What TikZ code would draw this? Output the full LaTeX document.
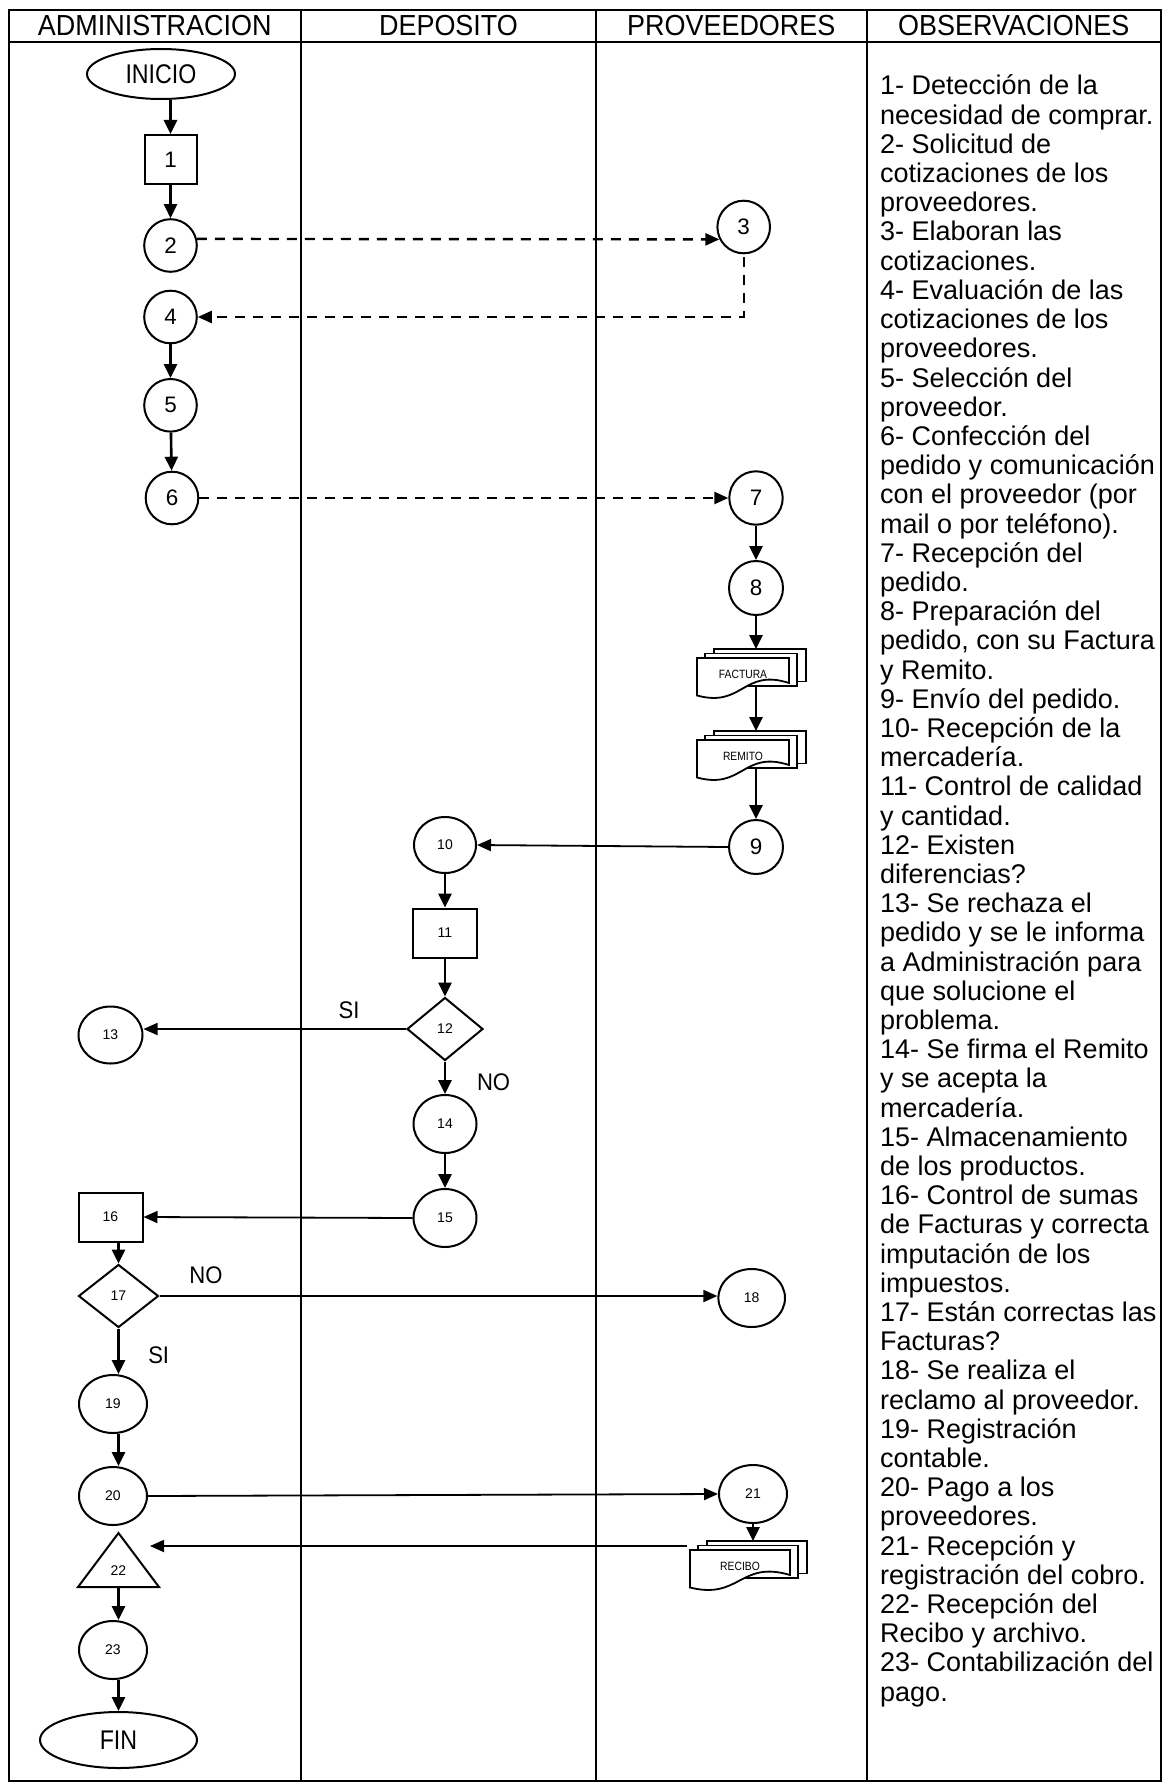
\documentclass[tikz,border=0pt]{standalone}
\usepackage{fontspec}
\setmainfont{Liberation Sans}
\newfontfamily\condfont{Liberation Sans}[FakeStretch=0.86]
\newfontfamily\labfont{Liberation Sans}[FakeStretch=0.92]
\newfontfamily\headfont{Liberation Sans}[FakeStretch=0.93]
\usetikzlibrary{shapes.geometric,arrows.meta,backgrounds}

% stack of three documents: #1 name, #2 left x, #3 top y of the front sheet, #4 width, #5 label
\newcommand\docstack[5]{%
  \foreach \k in {2,1}{%
    \path[docline] ({#2+8.3*\k},{#3-4.5*\k}) rectangle ++(#4,32.5);
  }%
  \path[docline] (#2,#3) -- ++(#4,0) -- ++(0,25)
     .. controls ({#2+0.5*#4},{#3+10}) and ({#2+0.5*#4},{#3+50}) .. (#2,{#3+37.5}) -- cycle;
  \node[doctext] (#1) at ({#2+0.5*#4},{#3+16}) {#5};
  \coordinate (#1-top) at ({#2+16.6+0.5*#4},{#3-9});
}

\begin{document}
\begin{tikzpicture}[x=1pt,y=-1pt,
  lane/.style={line width=2pt},
  shp/.style={draw,line width=2pt,fill=white,inner sep=0pt},
  ell/.style n args={2}{shp,ellipse,minimum width=#1,minimum height=#2},
  box/.style n args={2}{shp,rectangle,minimum width=#1,minimum height=#2},
  dmd/.style n args={2}{shp,diamond,minimum width=#1,minimum height=#2},
  bignum/.style={font=\fontsize{22.4pt}{24pt}\selectfont},
  smallnum/.style={font=\fontsize{14pt}{16pt}\selectfont},
  term/.style={font=\condfont\fontsize{27pt}{29pt}\selectfont},
  head/.style={font=\headfont\fontsize{29pt}{31pt}\selectfont,inner sep=0pt},
  lab/.style={font=\labfont\fontsize{24pt}{26pt}\selectfont,inner sep=0pt},
  doctext/.style={font=\condfont\fontsize{12pt}{14pt}\selectfont,inner sep=0pt},
  docline/.style={draw,line width=1.8pt,fill=white,line join=miter},
  obs/.style={font=\fontsize{27pt}{29.2pt}\selectfont,anchor=base west,inner sep=0pt},
  arr/.style={line width=2.6pt,-{Triangle[length=14pt,width=13pt]}},
  harr/.style={line width=1.8pt,-{Triangle[length=14pt,width=12pt]}},
  dline/.style={line width=2.4pt,dash pattern=on 10pt off 8pt,-{Triangle[length=14pt,width=12pt]}},
]
\useasboundingbox (0,0) rectangle (1168,1787);

% swimlane table
\draw[lane] (8.5,10) rectangle (1161,1781);
\draw[lane] (8.5,42) -- (1161,42);
\foreach \xx in {301,596,866.5} \draw[lane] (\xx,10) -- (\xx,1781);

\node[head] (h1) at (154.75,26) {ADMINISTRACION};
\node[head] (h2) at (448.5,26) {DEPOSITO};
\node[head] (h3) at (731.25,26) {PROVEEDORES};
\node[head] (h4) at (1013.75,26) {OBSERVACIONES};

% administracion / proveedores, upper part
\node[ell={148pt}{50pt},term] (ini) at (161,74) {INICIO};
\node[box={52pt}{49pt},bignum] (b1) at (170.5,159.5) {1};
\node[ell={52.6pt}{52.6pt},bignum] (c2) at (170.5,245.5) {2};
\node[ell={52.6pt}{52.6pt},bignum] (c3) at (743.7,227) {3};
\node[ell={52.6pt}{52.6pt},bignum] (c4) at (170.5,317) {4};
\node[ell={52.6pt}{52.6pt},bignum] (c5) at (170.5,405.3) {5};
\node[ell={52.6pt}{52.6pt},bignum] (c6) at (172,498) {6};
\node[ell={53.4pt}{53.4pt},bignum] (c7) at (756,498) {7};
\node[ell={54pt}{54pt},bignum] (c8) at (756,588) {8};
\docstack{fac}{697}{658}{92}{FACTURA}
\docstack{rem}{697}{740}{92}{REMITO}
\node[ell={54pt}{54pt},bignum] (c9) at (756,847) {9};

% deposito
\node[ell={62pt}{56pt},smallnum] (c10) at (445,845) {10};
\node[box={63.5pt}{49pt},smallnum] (b11) at (445,933) {11};
\node[dmd={76pt}{63pt},smallnum] (d12) at (445,1029) {12};
\node[ell={64pt}{57pt},smallnum] (c13) at (110.5,1035) {13};
\node[ell={63pt}{58pt},smallnum] (c14) at (445,1124) {14};
\node[ell={63pt}{58pt},smallnum] (c15) at (445,1218) {15};
\node[lab] (si1) at (349,1010) {SI};
\node[lab] (no1) at (493.6,1082) {NO};

% administracion, lower part
\node[box={64pt}{49pt},smallnum] (b16) at (110.5,1217) {16};
\node[dmd={80pt}{63pt},smallnum] (d17) at (118.5,1296) {17};
\node[ell={66.6pt}{58pt},smallnum] (c18) at (751.7,1298) {18};
\node[lab] (no2) at (206,1275) {NO};
\node[lab] (si2) at (158.7,1355) {SI};
\node[ell={68pt}{58pt},smallnum] (c19) at (113,1404) {19};
\node[ell={68pt}{58pt},smallnum] (c20) at (113,1496) {20};
\node[ell={68pt}{58pt},smallnum] (c21) at (753,1494) {21};
\docstack{rec}{690}{1550}{100}{RECIBO}
\draw[line width=2pt,fill=white,line join=miter] (118.5,1533) -- (159,1587) -- (78,1587) -- cycle;
\node[smallnum,inner sep=0pt] (t22) at (118.5,1571) {22};
\coordinate (t22-base) at (118.5,1587);
\coordinate (t22-in) at (150,1546);
\coordinate (rec-w) at (687,1546);
\node[ell={68pt}{58pt},smallnum] (c23) at (113,1650) {23};
\node[ell={157pt}{56pt},term] (fin) at (118.5,1740) {FIN};

% observaciones
\foreach \txt [count=\i from 0] in {%
  {1- Detección de la},{necesidad de comprar.},{2- Solicitud de},{cotizaciones de los},
  {proveedores.},{3- Elaboran las},{cotizaciones.},{4- Evaluación de las},
  {cotizaciones de los},{proveedores.},{5- Selección del},{proveedor.},
  {6- Confección del},{pedido y comunicación},{con el proveedor (por},{mail o por teléfono).},
  {7- Recepción del},{pedido.},{8- Preparación del},{pedido, con su Factura},
  {y Remito.},{9- Envío del pedido.},{10- Recepción de la},{mercadería.},
  {11- Control de calidad},{y cantidad.},{12- Existen},{diferencias?},
  {13- Se rechaza el},{pedido y se le informa},{a Administración para},{que solucione el},
  {problema.},{14- Se firma el Remito},{y se acepta la},{mercadería.},
  {15- Almacenamiento},{de los productos.},{16- Control de sumas},{de Facturas y correcta},
  {imputación de los},{impuestos.},{17- Están correctas las},{Facturas?},
  {18- Se realiza el},{reclamo al proveedor.},{19- Registración},{contable.},
  {20- Pago a los},{proveedores.},{21- Recepción y},{registración del cobro.},
  {22- Recepción del},{Recibo y archivo.},{23- Contabilización del},{pago.}}
  \node[obs] (obs\i) at (880,{95+\i*29.2}) {\txt};

% connectors
\begin{pgfonlayer}{background}
\draw[arr] (ini.south -| b1) -- (b1.north);
\draw[arr] (b1) -- (c2);
\draw[dline] (c2.14) -- (c3.207);
\draw[dline] ([yshift=-3pt]c3.south) |- (c4.east);
\draw[arr] (c4) -- (c5);
\draw[arr] (c5) -- (c6);
\draw[dline] (c6.east) -- (c7.west);
\draw[arr] (c7) -- (c8);
\draw[arr] (c8) -- (c8 |- fac-top);
\draw[arr] (fac.center -| c8) -- (c8 |- rem-top);
\draw[arr] (rem.center -| c9) -- (c9.north);
\draw[harr] (c9.west) -- (c10.east);
\draw[arr] (c10) -- (b11);
\draw[arr] (b11) -- (d12);
\draw[harr] (d12.west) -- (d12.west -| c13.east);
\draw[arr] (d12) -- (c14);
\draw[arr] (c14) -- (c15);
\draw[harr] (c15.west) -- (b16.east);
\draw[arr] (b16.south -| d17.north) -- (d17.north);
\draw[harr] (d17.east) -- (d17.east -| c18.west);
\draw[arr] (d17.south) -- (d17.south |- c19.north);
\draw[arr] (c19.south -| d17) -- (d17 |- c20.north);
\draw[harr] (c20.east) -- (c21.west);
\draw[arr] (c21) -- (c21 |- rec-top);
\draw[harr] (rec-w) -- (t22-in);
\draw[arr] (t22-base) -- (t22-base |- c23.north);
\draw[arr] (c23.south -| fin) -- (fin.north);
\end{pgfonlayer}
\end{tikzpicture}
\end{document}
